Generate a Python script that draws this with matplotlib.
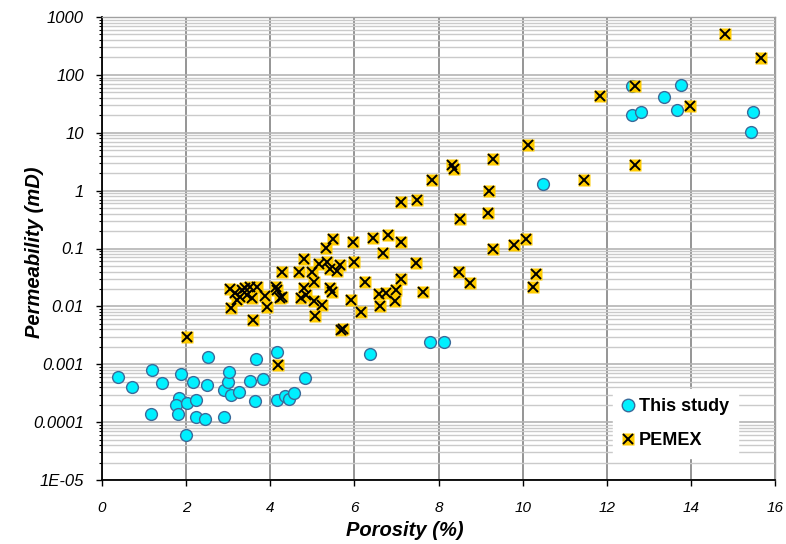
import matplotlib
matplotlib.use("Agg")
import matplotlib.pyplot as plt
from matplotlib.lines import Line2D
from matplotlib.legend_handler import HandlerTuple
from matplotlib.ticker import FixedLocator, NullFormatter

plt.rcParams['font.family'] = ['Liberation Sans', 'DejaVu Sans']

# This study: porosity (%) and permeability (mD)
study_por = [0.38, 0.71, 1.18, 1.43, 1.16, 1.87, 1.84, 1.76, 1.80, 2.03, 2.00, 2.17,
             2.24, 2.23, 2.45, 2.51, 2.49, 2.90, 2.90, 2.99, 3.02, 3.07, 3.26, 3.51,
             3.66, 3.63, 3.83, 4.16, 4.15, 4.34, 4.44, 4.56, 4.83, 6.38, 7.80, 8.13,
             10.49, 12.59, 13.76, 13.37, 12.59, 12.82, 13.67, 15.48, 15.43]
study_perm = [6.0e-4, 4.1e-4, 7.8e-4, 4.8e-4, 1.4e-4, 6.7e-4, 2.6e-4, 2.0e-4, 1.4e-4,
              2.1e-4, 5.9e-5, 4.9e-4, 2.4e-4, 1.22e-4, 1.14e-4, 1.36e-3, 4.35e-4,
              1.25e-4, 3.6e-4, 5.0e-4, 7.4e-4, 3.0e-4, 3.3e-4, 5.2e-4, 1.24e-3,
              2.3e-4, 5.6e-4, 1.62e-3, 2.45e-4, 2.8e-4, 2.5e-4, 3.2e-4, 5.7e-4,
              1.5e-3, 2.4e-3, 2.4e-3, 1.3, 64, 66, 42, 20.6, 22.9, 24.8, 22.9, 10.2]

# PEMEX: porosity (%) and permeability (mD)
pemex_por = [14.82, 15.66, 11.85, 12.67, 13.98, 12.66, 11.47,
             10.12, 9.29, 8.31, 8.37, 7.84, 9.19, 7.12, 7.48, 9.17, 8.50,
             6.80, 7.10, 6.67, 9.29, 9.79, 10.08, 7.46, 8.48, 8.76, 10.32, 10.24, 7.12, 7.63,
             6.44, 6.58, 6.74, 6.98, 6.96, 6.60, 6.26, 6.15,
             5.49, 5.33, 5.96, 4.80, 5.15, 5.35, 5.65, 5.99, 5.43, 5.59, 4.68, 4.28, 4.99,
             5.03, 4.80, 5.41, 5.47, 4.28, 4.72, 4.84, 5.03, 5.23, 5.92, 5.07, 5.69, 5.72,
             3.05, 3.17, 3.29, 3.41, 3.52, 3.68, 3.57, 3.07, 3.88, 3.92, 4.14, 4.24, 3.58,
             3.33, 3.22, 3.45, 4.15,
             2.02, 4.19]
pemex_perm = [500, 196, 44, 64, 29, 2.8, 1.53,
              6.2, 3.5, 2.75, 2.35, 1.53, 0.99, 0.63, 0.68, 0.41, 0.32,
              0.17, 0.128, 0.085, 0.098, 0.114, 0.145, 0.057, 0.039, 0.0255, 0.036, 0.0217, 0.030, 0.0176,
              0.154, 0.0164, 0.0169, 0.019, 0.0124, 0.0102, 0.026, 0.0079,
              0.147, 0.104, 0.128, 0.066, 0.054, 0.059, 0.052, 0.059, 0.044, 0.041, 0.039, 0.039, 0.039,
              0.026, 0.0206, 0.0206, 0.018, 0.0143, 0.0139, 0.0158, 0.0124, 0.0106, 0.013, 0.0069, 0.0039, 0.0040,
              0.020, 0.0169, 0.0148, 0.0206, 0.022, 0.022, 0.0139, 0.0093, 0.0153, 0.0099, 0.022, 0.0139, 0.0058,
              0.019, 0.013, 0.016, 0.019,
              0.0029, 0.00098]

y_ticks = [1e-5, 1e-4, 1e-3, 1e-2, 1e-1, 1, 10, 100, 1000]
y_tick_labels = ['1E-05', '0.0001', '0.001', '0.01', '0.1', '1', '10', '100', '1000']
x_ticks = [0, 2, 4, 6, 8, 10, 12, 14, 16]

cyan_face = '#00F0FF'
cyan_edge = '#3A6A9A'
gold = '#FFCC00'

W, H = 786, 544
fig = plt.figure(figsize=(W / 100, H / 100), dpi=100)
ax = fig.add_axes([102 / W, 64 / H, 673 / W, 463 / H])

ax.set_yscale('log')
ax.set_xlim(0, 16)
ax.set_ylim(1e-5, 1000)

# grid: every decade and every minor step, vertical lines every 2 %
minor = [m * 10.0 ** e for e in range(-5, 3) for m in range(2, 10)]
ax.yaxis.set_minor_locator(FixedLocator(minor))
ax.yaxis.set_minor_formatter(NullFormatter())
ax.grid(True, which='major', axis='y', color='#B4B4B4', lw=1.2, zorder=0)
ax.grid(True, which='minor', axis='y', color='#CACACA', lw=1.0, zorder=0)
ax.grid(True, which='major', axis='x', color='#8C8C8C', lw=1.3, zorder=0)

ax.set_yticks(y_ticks)
ax.set_yticklabels(y_tick_labels, fontstyle='italic', fontsize=12)
ax.set_xticks(x_ticks)
ax.set_xticklabels([str(v) for v in x_ticks], fontstyle='italic', fontsize=11)
ax.tick_params(axis='y', which='major', direction='out', length=4, width=1, pad=9)
ax.tick_params(axis='y', which='minor', direction='out', length=2.5, width=0.8)
ax.tick_params(axis='x', which='major', direction='out', length=4, width=1, pad=11)

for side in ('left', 'bottom'):
    ax.spines[side].set_color('black')
    ax.spines[side].set_linewidth(1.3)
for side in ('top', 'right'):
    ax.spines[side].set_color('#A0A0A0')
    ax.spines[side].set_linewidth(1.0)

ax.plot(study_por, study_perm, linestyle='none', marker='o', markersize=8.5,
        markerfacecolor=cyan_face, markeredgecolor=cyan_edge, markeredgewidth=1.0,
        zorder=3, clip_on=False)
ax.plot(pemex_por, pemex_perm, linestyle='none', marker='s', markersize=8.5,
        markerfacecolor=gold, markeredgecolor='none', zorder=4, clip_on=False)
ax.plot(pemex_por, pemex_perm, linestyle='none', marker='x', markersize=7.5,
        markeredgecolor='black', markeredgewidth=1.4, zorder=5, clip_on=False)

# axis titles
fig.text(405 / W, 1 - 531 / H, 'Porosity (%)', ha='center', va='center',
         fontsize=14.5, fontweight='bold', fontstyle='italic')
fig.text(35 / W, 1 - 252 / H, 'Permeability (mD)', ha='center', va='center',
         rotation=90, fontsize=14.5, fontweight='bold', fontstyle='italic')

h_study = Line2D([], [], linestyle='none', marker='o', markersize=9,
                 markerfacecolor=cyan_face, markeredgecolor=cyan_edge, markeredgewidth=1.0)
h_sq = Line2D([], [], linestyle='none', marker='s', markersize=9,
              markerfacecolor=gold, markeredgecolor='none')
h_x = Line2D([], [], linestyle='none', marker='x', markersize=7.5,
             markeredgecolor='black', markeredgewidth=1.4)
leg = ax.legend([h_study, (h_sq, h_x)], ['This study', 'PEMEX'],
                handler_map={tuple: HandlerTuple(ndivide=1, pad=0)},
                loc='lower left', bbox_to_anchor=(0.759, 0.047),
                frameon=True, fancybox=False, framealpha=1.0,
                edgecolor='white', facecolor='white',
                prop={'weight': 'bold', 'size': 13},
                handlelength=0.7, handletextpad=0.25, labelspacing=0.95,
                borderpad=0.5, borderaxespad=0)
leg.set_zorder(6)

fig.savefig('out.png', dpi=100)
